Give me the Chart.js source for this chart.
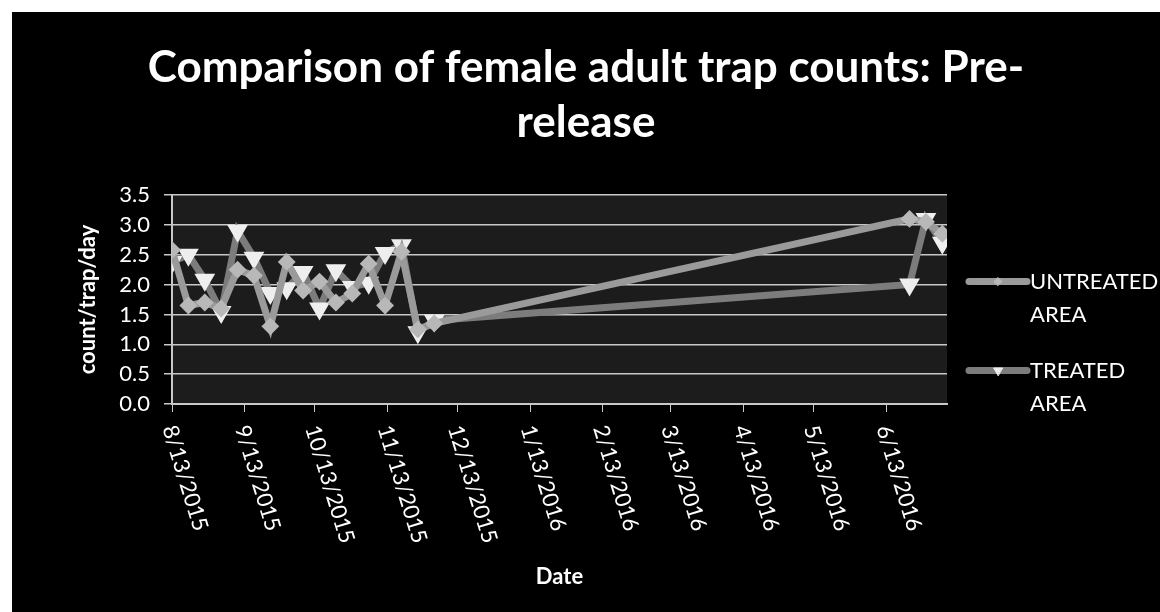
<!DOCTYPE html>
<html>
<head>
<meta charset="utf-8">
<script src="https://cdn.jsdelivr.net/npm/chart.js@4.4.1/dist/chart.umd.min.js"></script>
<style>
  html, body { margin: 0; padding: 0; background: #fff; }
  #wrap { position: absolute; left: 12px; top: 12px; width: 1148px; height: 600px; background: #000; }
</style>
</head>
<body>
<div id="wrap"><canvas id="trapChart"></canvas></div>
<script>
// weekly trap samples
const sampleDates = ['8/13/2015', '8/20/2015', '8/27/2015', '9/3/2015', '9/10/2015', '9/17/2015',
  '9/24/2015', '10/1/2015', '10/8/2015', '10/15/2015', '10/22/2015', '10/29/2015', '11/5/2015',
  '11/12/2015', '11/19/2015', '11/26/2015', '12/3/2015', '6/23/2016', '6/30/2016', '7/7/2016'];
const untreatedArea = [2.58, 1.65, 1.7, 1.6, 2.25, 2.15, 1.3, 2.38, 1.9, 2.05, 1.7, 1.85, 2.35,
  1.65, 2.55, 1.25, 1.35, 3.1, 3.05, 2.85];
const treatedArea = [2.38, 2.5, 2.08, 1.54, 2.9, 2.45, 1.86, 1.94, 2.21, 1.6, 2.24, 1.96, 2.03,
  2.53, 2.66, 1.2, 1.4, 2.0, 3.1, 2.7];
const seriesNames = [['UNTREATED', 'AREA'], ['TREATED', 'AREA']];

const tickLabels = ['8/13/2015', '9/13/2015', '10/13/2015', '11/13/2015', '12/13/2015', '1/13/2016',
  '2/13/2016', '3/13/2016', '4/13/2016', '5/13/2016', '6/13/2016'];
const axisEnd = '7/9/2016';

const FONT = 'Lato';

function dayNumber(str) {
  const [m, d, y] = str.split('/').map(Number);
  const [m0, d0, y0] = tickLabels[0].split('/').map(Number);
  return (Date.UTC(y, m - 1, d) - Date.UTC(y0, m0 - 1, d0)) / 86400000;
}

const toPoints = vals => sampleDates.map((d, i) => ({ x: dayNumber(d), y: vals[i] }));

// grey plot area behind the grid
const plotFill = {
  id: 'plotFill',
  beforeDraw(chart) {
    const { ctx, chartArea: a } = chart;
    ctx.save();
    ctx.fillStyle = '#1c1c1c';
    ctx.fillRect(a.left, a.top, a.right - a.left, a.bottom - a.top);
    ctx.restore();
  }
};

// date labels run down to the right, so draw them by hand
const slantedDates = {
  id: 'slantedDates',
  afterDraw(chart) {
    const { ctx } = chart;
    const xs = chart.scales.x;
    ctx.save();
    ctx.fillStyle = '#fff';
    ctx.font = '22px ' + FONT;
    ctx.textAlign = 'left';
    ctx.textBaseline = 'middle';
    xs.ticks.forEach((t, i) => {
      const px = xs.getPixelForValue(t.value);
      ctx.save();
      ctx.translate(px - 3, xs.top + 22);
      ctx.rotate(73 * Math.PI / 180);
      ctx.fillText(tickLabels[i], 0, 0);
      ctx.restore();
    });
    ctx.restore();
  }
};

// two-line legend on the right
const sideLegend = {
  id: 'sideLegend',
  afterDraw(chart) {
    const { ctx, chartArea: a } = chart;
    const mid = (a.top + a.bottom) / 2;
    const rows = [mid - 18, mid + 71];
    ctx.save();
    chart.data.datasets.forEach((ds, i) => {
      const y = rows[i];
      const x0 = a.right + 22, x1 = a.right + 80;
      ctx.strokeStyle = ds.borderColor;
      ctx.lineWidth = 7;
      ctx.lineCap = 'round';
      ctx.beginPath();
      ctx.moveTo(x0, y);
      ctx.lineTo(x1, y);
      ctx.stroke();
      ctx.fillStyle = ds.pointBackgroundColor;
      ctx.strokeStyle = ds.pointBorderColor;
      ctx.lineWidth = 1;
      Chart.helpers.drawPoint(ctx, {
        pointStyle: ds.pointStyle, radius: ds.pointRadius, rotation: ds.pointRotation || 0, borderWidth: 1
      }, (x0 + x1) / 2, y);
      ctx.fillStyle = '#fff';
      ctx.font = '22px ' + FONT;
      ctx.textAlign = 'left';
      ctx.textBaseline = 'middle';
      seriesNames[i].forEach((line, k) => ctx.fillText(line, x1 + 3, y + k * 33));
    });
    ctx.restore();
  }
};

new Chart(document.getElementById('trapChart'), {
  type: 'line',
  data: {
    datasets: [{
      label: 'UNTREATED AREA',
      data: toPoints(untreatedArea),
      borderColor: '#9a9a9a',
      borderWidth: 7,
      pointStyle: 'rectRot',
      pointRadius: 4,
      pointBackgroundColor: '#b8b8b8',
      pointBorderColor: '#b8b8b8',
      tension: 0
    }, {
      label: 'TREATED AREA',
      data: toPoints(treatedArea),
      borderColor: '#7c7c7c',
      borderWidth: 7,
      pointStyle: 'triangle',
      pointRotation: 180,
      pointRadius: 5,
      pointBackgroundColor: '#eeeeee',
      pointBorderColor: '#eeeeee',
      tension: 0
    }]
  },
  options: {
    responsive: true,
    maintainAspectRatio: false,
    devicePixelRatio: 1,
    animation: false,
    plugins: {
      legend: { display: false },
      tooltip: { enabled: false },
      title: {
        display: true,
        text: ['Comparison of female adult trap counts: Pre-', 'release'],
        color: '#fff',
        font: { family: FONT, size: 44, weight: 'bold', lineHeight: 1.25 },
        padding: { top: 28, bottom: 45 }
      }
    },
    scales: {
      x: {
        type: 'linear',
        min: 0,
        max: dayNumber(axisEnd),
        afterBuildTicks: s => { s.ticks = tickLabels.map(l => ({ value: dayNumber(l) })); },
        afterFit: s => { s.height = 208; },
        ticks: { display: false },
        grid: { drawOnChartArea: false, drawTicks: true, tickLength: 8, color: '#c8c8c8' },
        border: { color: '#c8c8c8', width: 2 },
        title: {
          display: true,
          text: 'Date',
          color: '#fff',
          font: { family: FONT, size: 22, weight: 'bold', lineHeight: 1.2 },
          padding: { top: 0, bottom: 22 }
        }
      },
      y: {
        min: 0,
        max: 3.5,
        afterFit: s => { s.width = 160; },
        ticks: {
          stepSize: 0.5,
          color: '#fff',
          padding: 14,
          font: { family: FONT, size: 22 },
          callback: v => v.toFixed(1)
        },
        grid: { color: '#c8c8c8', lineWidth: 1.5, tickLength: 8 },
        border: { color: '#c8c8c8', width: 2 },
        title: {
          display: true,
          text: 'count/trap/day',
          color: '#fff',
          font: { family: FONT, size: 22, weight: 'bold', lineHeight: 1.2 },
          padding: { top: 63, bottom: 0 }
        }
      },
      // empty right-hand box: keeps room for the legend
      legendSpace: {
        position: 'right',
        min: 0,
        max: 1,
        afterFit: s => { s.width = 213; },
        ticks: { display: false },
        grid: { display: false, drawOnChartArea: false },
        border: { display: false }
      }
    }
  },
  plugins: [plotFill, slantedDates, sideLegend]
});
</script>
</body>
</html>
